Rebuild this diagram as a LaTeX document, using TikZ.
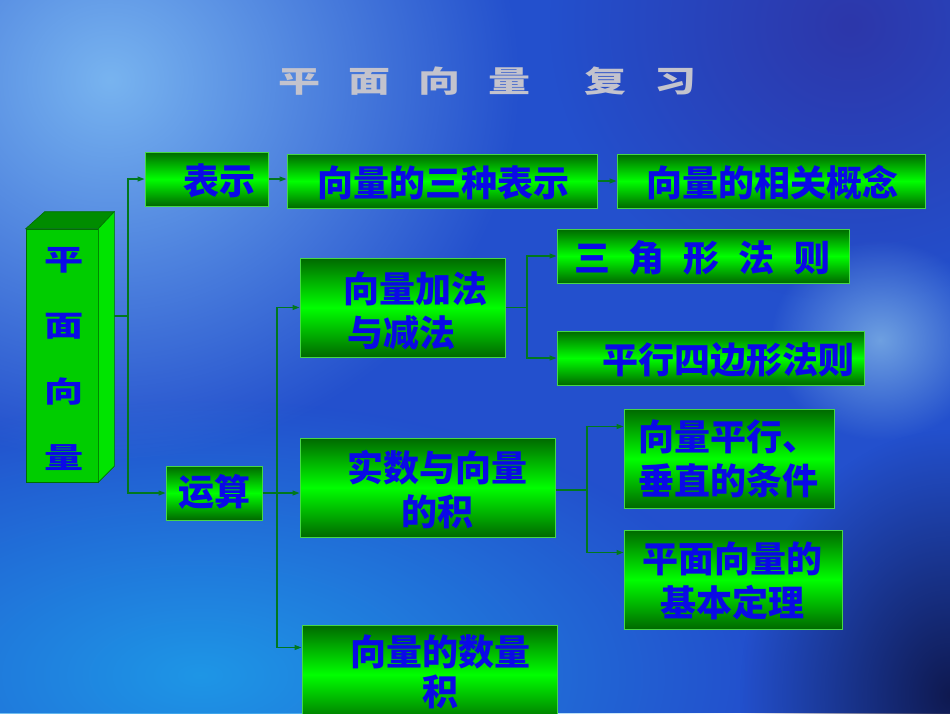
\documentclass[tikz,border=0pt]{standalone}
\usepackage{fontspec}
\newfontfamily\cjk{Noto Sans CJK SC}
\usetikzlibrary{arrows.meta,fadings,calc}
\tikzfading[name=softglow, inner color=transparent!0, outer color=transparent!100]
\definecolor{bgbase}{RGB}{35,80,205}
\definecolor{azure}{RGB}{30,150,230}
\definecolor{skyl}{RGB}{120,180,240}
\definecolor{navy}{RGB}{15,25,80}
\definecolor{glow}{RGB}{110,160,225}
\definecolor{topdark}{RGB}{45,55,170}
\definecolor{gdark}{RGB}{0,105,0}
\definecolor{gbright}{RGB}{0,255,0}
\definecolor{boxline}{RGB}{70,215,70}
\definecolor{linecol}{RGB}{0,120,30}
\definecolor{txtblue}{RGB}{10,10,230}
\definecolor{titlegray}{RGB}{195,195,205}
\definecolor{frontg}{RGB}{0,205,0}
\definecolor{topg}{RGB}{0,140,0}
\definecolor{sideg}{RGB}{0,228,0}
\definecolor{edgeg}{RGB}{0,110,0}
\begin{document}
\begin{tikzpicture}[x=1pt,y=-1pt,
  box/.style={draw=boxline,line width=1pt,top color=gdark,bottom color=gdark,middle color=gbright,inner sep=0pt},
  lbl/.style={text=txtblue,inner sep=0pt,font={\cjk\bfseries\fontsize{36}{44}\selectfont}},
  conn/.style={draw=linecol,line width=1.1pt},
  arr/.style={conn,-{Triangle[length=7pt,width=5pt]}}]
\useasboundingbox (0,0) rectangle (950,713);
\clip (0,0) rectangle (950,713);
% background
\fill[bgbase] (0,0) rectangle (950,713);
\fill[topdark,path fading=softglow] (550,-250) rectangle (1150,300);
\fill[azure,path fading=softglow] (-350,400) rectangle (750,950);
\fill[skyl,path fading=softglow] (-300,-300) rectangle (520,460);
\fill[navy,path fading=softglow] (740,430) rectangle (1160,960);
\fill[glow,path fading=softglow] (770,240) rectangle (990,440);
% title
\node[text=titlegray,inner sep=0pt,font={\cjk\bfseries\fontsize{30}{36}\selectfont}] (title) at (487,81)
  {\scalebox{1.4}[1]{平}\hspace{28pt}\scalebox{1.4}[1]{面}\hspace{28pt}\scalebox{1.4}[1]{向}\hspace{28pt}\scalebox{1.4}[1]{量}\hspace{54pt}\scalebox{1.4}[1]{复}\hspace{28pt}\scalebox{1.4}[1]{习}};
% 3D box
\node[fill=frontg,draw=edgeg,line width=0.6pt,minimum width=72pt,minimum height=253pt,inner sep=0pt] (front) at (62,355.5) {};
\fill[topg,draw=edgeg,line width=0.6pt] (front.north west) -- ++(19,-17) -- ($(front.north east)+(16,-17)$) -- (front.north east) -- cycle;
\fill[sideg,draw=edgeg,line width=0.6pt] (front.north east) -- ($(front.north east)+(16,-17)$) -- ($(front.south east)+(16,-16)$) -- (front.south east) -- cycle;
\node[text=txtblue,inner sep=0pt,align=center,font={\cjk\bfseries\fontsize{29}{66}\selectfont}] (vt) at (64,359)
  {\scalebox{1.35}[1]{平}\\\scalebox{1.35}[1]{面}\\\scalebox{1.35}[1]{向}\\\scalebox{1.35}[1]{量}};
\coordinate (sidept) at (114,316);
% boxes
\node[box,minimum width=123pt,minimum height=54pt] (rep) at (206.5,179) {};
\node[box,minimum width=310pt,minimum height=54pt] (three) at (442,181) {};
\node[box,minimum width=308pt,minimum height=54pt] (concept) at (771,181) {};
\node[box,minimum width=292pt,minimum height=54pt] (tri) at (703,256) {};
\node[box,minimum width=307pt,minimum height=54pt] (para) at (710.5,358) {};
\node[box,minimum width=205pt,minimum height=99pt] (addsub) at (402.5,307.5) {};
\node[box,minimum width=255pt,minimum height=99pt] (scalar) at (427.5,487.5) {};
\node[box,minimum width=210pt,minimum height=99pt] (parcond) at (729,458.5) {};
\node[box,minimum width=218pt,minimum height=99pt] (basis) at (733,579.5) {};
\node[box,minimum width=255pt,minimum height=99pt] (dot) at (429.5,674.5) {};
\node[box,minimum width=96pt,minimum height=54pt] (ops) at (214,493) {};
% labels
\node[lbl] (rep-t) at (219,181) {表示};
\node[lbl] (three-t) at (443,183) {向量的三种表示};
\node[lbl] (concept-t) at (772,183) {向量的相关概念};
\node[lbl] (tri-t) at (702,258) {三\hspace{19pt}角\hspace{19pt}形\hspace{19pt}法\hspace{19pt}则};
\node[lbl] (para-t) at (728,360) {平行四边形法则};
\node[lbl,align=left,anchor=west] (addsub-t) at (343,311) {向量加法\\\hspace{4pt}与减法};
\node[lbl,align=center] (scalar-t) at (437,490) {实数与向量\\的积};
\node[lbl,align=left,anchor=west] (parcond-t) at (638,459) {向量平行、\\垂直的条件};
\node[lbl,align=center] (basis-t) at (732,581) {平面向量的\\基本定理};
\node[lbl,align=center,font={\cjk\bfseries\fontsize{36}{40}\selectfont}] (dot-t) at (440,672) {向量的数量\\积};
\node[lbl] (ops-t) at (214,492) {运算};
% connectors
\coordinate (t1) at (128,316);
\draw[conn] (sidept) -- (t1);
\draw[arr] (t1) |- (rep.west);
\draw[arr] (t1) |- (ops.west);
\draw[arr] (rep.east) -- (rep.east -| three.west);
\draw[arr] (three.east) -- (three.east -| concept.west);
\coordinate (t2) at (277,493);
\draw[arr] (ops.east) -- (ops.east -| scalar.west);
\draw[arr] (t2) |- (addsub.west);
\draw[arr] (t2) |- ([yshift=-23pt]dot.north west);
\coordinate (t3) at (527,307.5);
\draw[conn] (addsub.east) -- (t3);
\draw[arr] (t3) |- (tri.west);
\draw[arr] (t3) |- (para.west);
\coordinate (t4) at (587,490);
\draw[conn] (scalar.east |- t4) -- (t4);
\draw[arr] (t4) |- ([yshift=-18pt]parcond.north west);
\draw[arr] (t4) |- ([yshift=-23pt]basis.north west);
\end{tikzpicture}
\end{document}
